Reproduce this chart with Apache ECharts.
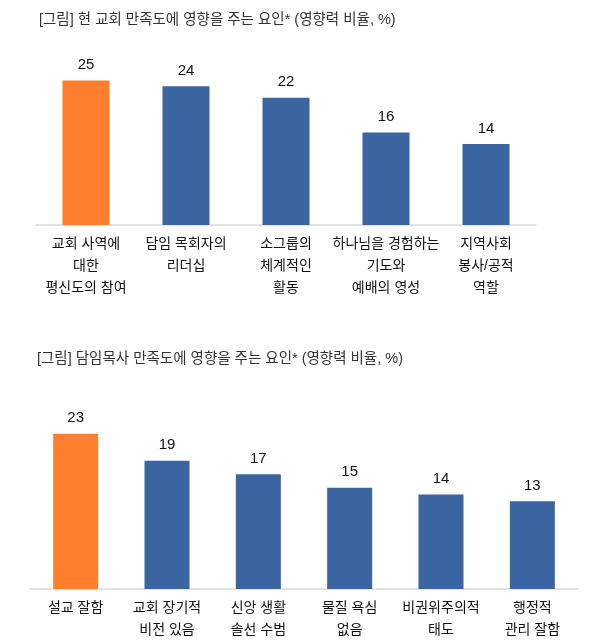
<!DOCTYPE html>
<html><head><meta charset="utf-8">
<script src="https://cdn.jsdelivr.net/npm/echarts@6/dist/echarts.min.js"></script>
<style>html,body{margin:0;padding:0;background:#fff}#c{width:600px;height:641px}</style>
</head><body><div id="c"></div>
<script>
const title1 = "[그림] 현 교회 만족도에 영향을 주는 요인* (영향력 비율, %)";
const categories1 = ["교회 사역에\n대한\n평신도의 참여", "담임 목회자의\n리더십", "소그룹의\n체계적인\n활동", "하나님을 경험하는\n기도와\n예배의 영성", "지역사회\n봉사/공적\n역할"];
const values1 = [25, 24, 22, 16, 14];
const title2 = "[그림] 담임목사 만족도에 영향을 주는 요인* (영향력 비율, %)";
const categories2 = ["설교 잘함", "교회 장기적\n비전 있음", "신앙 생활\n솔선 수범", "물질 욕심\n없음", "비권위주의적\n태도", "행정적\n관리 잘함"];
const values2 = [23, 19, 17, 15, 14, 13];
const highlightIndex = 0;

const ORANGE = '#FF7F2F', BLUE = '#3A65A0';
const FONT = '"Liberation Sans", "Noto Sans CJK KR", sans-serif';
function colored(vals){ return vals.map((v,i)=>({value:v, itemStyle:{color: i===highlightIndex?ORANGE:BLUE}})); }

const chart = echarts.init(document.getElementById('c'), null, {renderer:'canvas'});
const xCommon = {
  type:'category', axisTick:{show:false},
  axisLine:{lineStyle:{color:'#d9d9d9', width:1.5}},
  axisLabel:{color:'#111', fontSize:14, lineHeight:22, margin:8, fontFamily:FONT, interval:0}
};
const yCommon = {type:'value', min:0, max:30, show:false, splitLine:{show:false}};
const labelCommon = {show:true, position:'top', distance:8, color:'#111', fontSize:15, fontFamily:FONT};
chart.setOption({
  animation:false,
  textStyle:{fontFamily:FONT},
  title:[
    {text:title1, left:34, top:8, textStyle:{fontSize:14.5, fontWeight:'normal', color:'#333', fontFamily:FONT}},
    {text:title2, left:32, top:347, textStyle:{fontSize:14.5, fontWeight:'normal', color:'#333', fontFamily:FONT}}
  ],
  grid:[
    {left:36, width:500, top:51.6, height:173.4},
    {left:30, width:548, top:386.5, height:202.8}
  ],
  xAxis:[
    Object.assign({}, xCommon, {gridIndex:0, data:categories1}),
    Object.assign({}, xCommon, {gridIndex:1, data:categories2})
  ],
  yAxis:[
    Object.assign({}, yCommon, {gridIndex:0}),
    Object.assign({}, yCommon, {gridIndex:1})
  ],
  series:[
    {type:'bar', xAxisIndex:0, yAxisIndex:0, barWidth:47, data:colored(values1), label:labelCommon},
    {type:'bar', xAxisIndex:1, yAxisIndex:1, barWidth:45, data:colored(values2), label:labelCommon}
  ]
});
</script></body></html>
